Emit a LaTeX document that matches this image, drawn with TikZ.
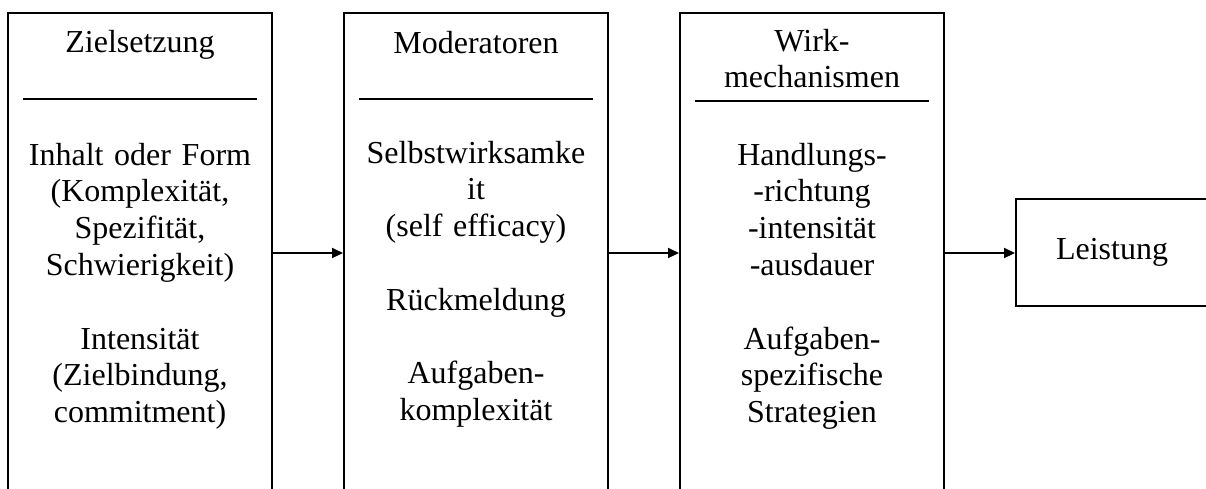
\documentclass[tikz,border=0pt]{standalone}
\usepackage{fontspec}
\setmainfont{Liberation Serif}
\usetikzlibrary{arrows.meta}

\begin{document}
\begin{tikzpicture}[x=1pt, y=-1pt,
  panel/.style={draw, line width=2pt, inner sep=0pt, minimum width=264pt, minimum height=490pt},
  txt/.style={text width=262pt, align=center, inner sep=0pt, anchor=base,
              font=\fontsize{32}{36.8}\selectfont},
  rule/.style={line width=2pt},
  flow/.style={line width=2pt, -{Triangle[length=11pt, width=10pt]}}
]
\useasboundingbox (0,0) rectangle (1206,488);
\clip (0,0) rectangle (1206,488);

% the three columns (open towards the bottom edge)
\node[panel] (goal) at (140,258) {};
\node[panel] (mod)  at (476,258) {};
\node[panel] (mech) at (812,258) {};

% outcome box
\node[draw, line width=2pt, inner sep=0pt, minimum width=192pt, minimum height=107pt,
      font=\fontsize{32}{36.8}\selectfont] (perf) at (1112,252) {Leistung};

% column headings
\node[txt] (goalhead) at (140,52) {Zielsetzung};
\node[txt] (modhead)  at (476,53) {Moderatoren};
\node[txt] (mechhead) at (812,51) {Wirk-\\mechanismen};

% heading rules
\draw[rule] (23,99) -- (257,99);
\draw[rule] (359,99) -- (593,99);
\draw[rule] (695,101) -- (929,101);

% column contents
\node[txt] (goalbody) at (140,165) {Inhalt oder Form\\(Komplexität,\\Spezifität,\\Schwierigkeit)\\[36.8pt]Intensität\\(Zielbindung,\\commitment)};
\node[txt] (modbody) at (476,163) {Selbstwirksamke\\it\\(self efficacy)\\[36.8pt]Rückmeldung\\[36.8pt]Aufgaben-\\komplexität};
\node[txt] (mechbody) at (812,165) {Handlungs-\\-richtung\\-intensität\\-ausdauer\\[36.8pt]Aufgaben-\\spezifische\\Strategien};

% connectors
\draw[flow] (goal.east |- 0,253) -- (mod.west |- 0,253);
\draw[flow] (mod.east |- 0,253) -- (mech.west |- 0,253);
\draw[flow] (mech.east |- 0,253) -- (perf.west |- 0,253);
\end{tikzpicture}
\end{document}
